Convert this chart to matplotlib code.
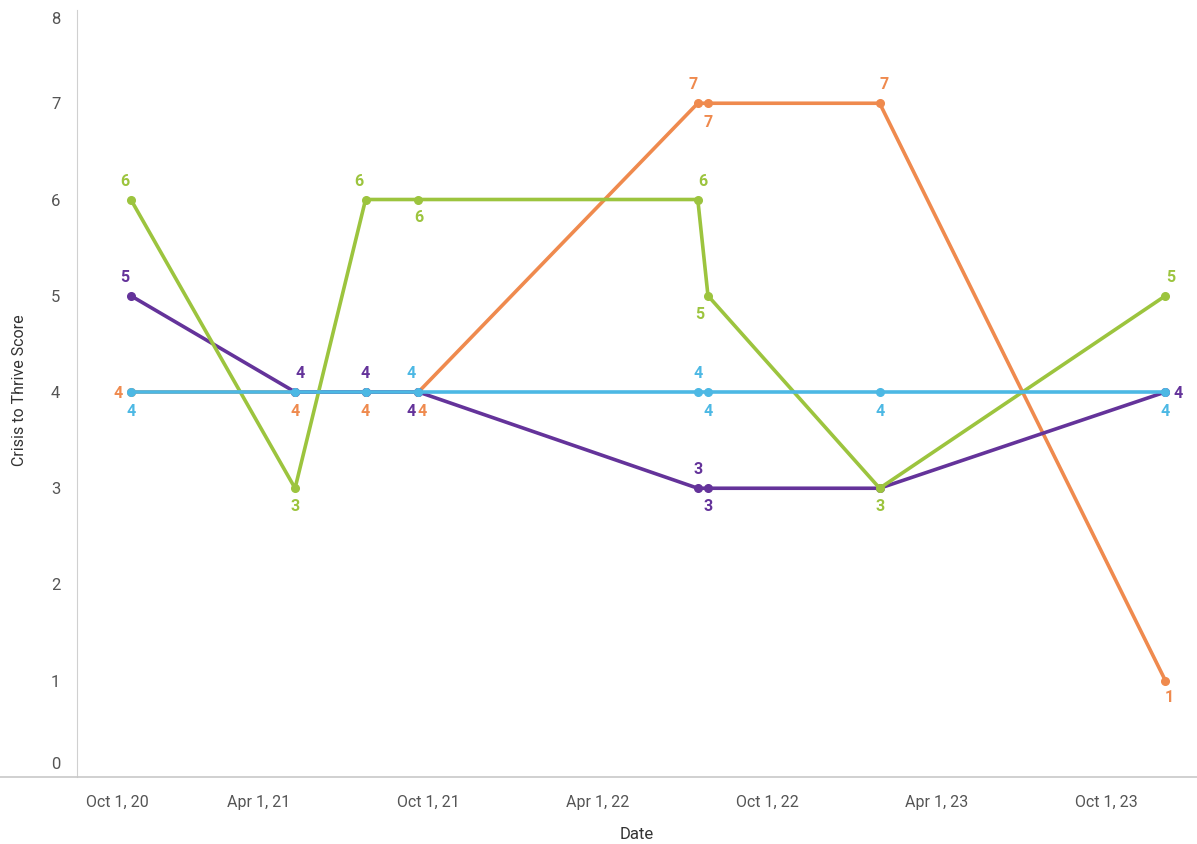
import matplotlib.pyplot as plt
from matplotlib.lines import Line2D
from matplotlib.transforms import ScaledTranslation
import datetime as dt

plt.rcParams['font.family'] = ['Roboto', 'DejaVu Sans']

dates = [dt.date(2020, 11, 14), dt.date(2021, 5, 10), dt.date(2021, 7, 25), dt.date(2021, 9, 20),
         dt.date(2022, 7, 18), dt.date(2022, 7, 29), dt.date(2023, 1, 30), dt.date(2023, 12, 4)]
orange = [4, 4, 4, 4, 7, 7, 7, 1]
purple = [5, 4, 4, 4, 3, 3, 3, 4]
green = [6, 3, 6, 6, 6, 5, 3, 5]
blue = [4, 4, 4, 4, 4, 4, 4, 4]

tick_dates = [dt.date(2020, 10, 1), dt.date(2021, 4, 1), dt.date(2021, 10, 1), dt.date(2022, 4, 1),
              dt.date(2022, 10, 1), dt.date(2023, 4, 1), dt.date(2023, 10, 1)]
tick_labels = ["Oct 1, 20", "Apr 1, 21", "Oct 1, 21", "Apr 1, 22", "Oct 1, 22", "Apr 1, 23", "Oct 1, 23"]

# label offsets in pixels per point (None = no label)
off_orange = [(-13, -1), (0, -19), (0, -19), (4, -19), (-5, 19), (0, -19), (4, 19), (4, -17)]
off_purple = [(-6, 18), (5, 18), (0, 18), (-7, -19), (0, 19), (0, -18), None, (13, -1)]
off_green = [(-6, 18), (0, -18), (-7, 18), (0, -18), (5, 18), (-8, -19), (0, -18), (5, 18)]
off_blue = [(0, -19), None, None, (-7, 18), (0, 18), (0, -19), (0, -19), (0, -19)]

c_orange = '#EF8A4E'
c_purple = '#64339A'
c_green = '#9CC43E'
c_blue = '#4CB8E4'

W, H = 1197, 844
fig = plt.figure(figsize=(W / 100, H / 100), dpi=100)
ax = fig.add_axes([77 / W, (H - 777) / H, 1 - 77 / W, (777 - 7) / H])

series = [(orange, c_orange, off_orange, 2),
          (purple, c_purple, off_purple, 3),
          (green, c_green, off_green, 4),
          (blue, c_blue, off_blue, 5)]
for vals, col, offs, z in series:
    ax.plot(dates, vals, color=col, lw=2.6, marker='o', ms=5.5, zorder=z, solid_capstyle='round')
    for d, v, o in zip(dates, vals, offs):
        if o is None:
            continue
        ax.annotate(str(v), (d, v), xytext=o, textcoords='offset pixels', ha='center', va='center',
                    color=col, fontsize=11.5, fontweight='bold', zorder=10)

ax.set_ylim(0, 8)
ax.set_xlim(dt.date(2020, 9, 17), dt.date(2024, 1, 7))
ax.set_yticks(range(0, 9))
ax.set_xticks(tick_dates)
ax.set_xticklabels(tick_labels)
ax.tick_params(axis='both', length=0, labelcolor='#555555')
ax.tick_params(axis='y', pad=12, labelsize=12)
ax.tick_params(axis='x', pad=13, labelsize=11.5)

# nudge edge labels inward like the original
ylabels = ax.get_yticklabels()
ylabels[0].set_transform(ylabels[0].get_transform() + ScaledTranslation(0, 14 / 100, fig.dpi_scale_trans))
ylabels[-1].set_transform(ylabels[-1].get_transform() + ScaledTranslation(0, -11 / 100, fig.dpi_scale_trans))
xlabels = ax.get_xticklabels()
xlabels[0].set_transform(xlabels[0].get_transform() + ScaledTranslation(27 / 100, 0, fig.dpi_scale_trans))

for s in ['top', 'right', 'bottom']:
    ax.spines[s].set_visible(False)
ax.spines['left'].set_color('#d0d0d0')
ax.spines['left'].set_bounds(0, 7.97)

fig.add_artist(Line2D([0, 1], [(H - 777) / H, (H - 777) / H], color='#c8c8c8', lw=1.2))

ax.set_xlabel("Date", fontsize=12, color='#333333', labelpad=12)
fig.text(20 / W, 1 - 390 / H, "Crisis to Thrive Score", rotation=90, ha='center', va='center',
         fontsize=11.5, color='#333333')

fig.savefig('out.png', dpi=100)
